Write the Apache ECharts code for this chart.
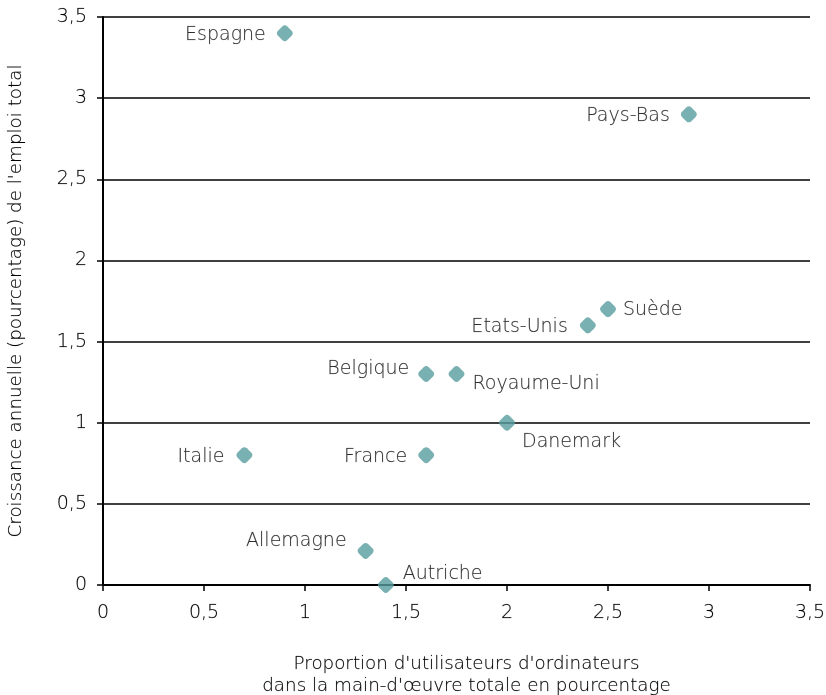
<!DOCTYPE html>
<html>
<head>
<meta charset="utf-8">
<script src="https://cdn.jsdelivr.net/npm/echarts@6/dist/echarts.min.js"></script>
<style>html,body{margin:0;padding:0;background:#fff}#c{width:826px;height:695px}</style>
</head>
<body>
<div id="c"></div>
<script>
const countries = ['Espagne','Pays-Bas','Suède','Etats-Unis','Belgique','Royaume-Uni','Danemark','Italie','France','Allemagne','Autriche'];
const computerShare = [0.9, 2.9, 2.5, 2.4, 1.6, 1.75, 2.0, 0.7, 1.6, 1.3, 1.4];
const employmentGrowth = [3.4, 2.9, 1.7, 1.6, 1.3, 1.3, 1.0, 0.8, 0.8, 0.21, 0.0];
const labelPlacement = {
  'Espagne': {position:'left', distance:11, offset:[0,2]},
  'Pays-Bas': {position:'left', distance:11, offset:[0,2]},
  'Suède': {position:'right', distance:7, offset:[0,1]},
  'Etats-Unis': {position:'left', distance:12, offset:[0,2]},
  'Belgique': {position:'left', distance:9, offset:[0,-5]},
  'Royaume-Uni': {position:'right', distance:8, offset:[0,10]},
  'Danemark': {position:'right', distance:7, offset:[0,19]},
  'Italie': {position:'left', distance:12, offset:[0,2]},
  'France': {position:'left', distance:11, offset:[0,2]},
  'Allemagne': {position:'left', distance:11, offset:[0,-10]},
  'Autriche': {position:'right', distance:9, offset:[0,-11]}
};
const fmt = v => String(v).replace('.', ',');

const data = countries.map((n,i)=>({
  name:n,
  value:[computerShare[i], employmentGrowth[i]],
  label:Object.assign({show:true, formatter:n}, labelPlacement[n])
}));

const chart = echarts.init(document.getElementById('c'), null, {renderer:'canvas'});
const font = 'DejaVu Sans, sans-serif';
const fw = 300;
const tc = '#000';
const fs = 19;
const fsTitle = 18.3;
const stroke = {textBorderColor:'rgba(0,0,0,0.35)', textBorderWidth:0.4};
chart.setOption({
  animation:false,
  textStyle:{fontFamily:font},
  grid:{left:103, right:16, top:17, bottom:110, containLabel:false, outerBoundsMode:'none'},
  xAxis:{
    type:'value', min:0, max:3.5, interval:0.5,
    axisLine:{show:true, onZero:false, lineStyle:{color:'#000', width:2}},
    axisTick:{show:true, inside:false, length:6, lineStyle:{color:'#000', width:1.5}},
    splitLine:{show:false},
    axisLabel:Object.assign({formatter:v=>fmt(v), color:tc, fontSize:fs, fontWeight:fw, margin:19, fontFamily:font}, stroke),
    name:"Proportion d'utilisateurs d'ordinateurs\ndans la main-d'œuvre totale en pourcentage",
    nameLocation:'middle', nameGap:68,
    nameTextStyle:Object.assign({color:tc, fontSize:fsTitle, fontWeight:fw, lineHeight:22, fontFamily:font, padding:[0,0,0,20]}, stroke)
  },
  yAxis:{
    type:'value', min:0, max:3.5, interval:0.5,
    axisLine:{show:true, lineStyle:{color:'#000', width:2}},
    axisTick:{show:true, inside:false, length:6, lineStyle:{color:'#000', width:1.5}},
    splitLine:{show:true, lineStyle:{color:'#000', width:1.5}},
    axisLabel:Object.assign({formatter:v=>fmt(v), color:tc, fontSize:fs, fontWeight:fw, margin:16, fontFamily:font}, stroke),
    name:"Croissance annuelle (pourcentage) de l'emploi total",
    nameLocation:'middle', nameGap:76, nameRotate:90,
    nameTextStyle:Object.assign({color:tc, fontSize:fsTitle, fontWeight:fw, lineHeight:22, fontFamily:font}, stroke)
  },
  series:[{
    type:'scatter',
    symbol:'path://M3.5,1 Q5,-0.4 6.5,1 L9,3.5 Q10.4,5 9,6.5 L6.5,9 Q5,10.4 3.5,9 L1,6.5 Q-0.4,5 1,3.5 Z',
    symbolSize:16,
    itemStyle:{color:'#589c9e'},
    label:Object.assign({color:tc, fontSize:fs, fontWeight:fw, fontFamily:font}, stroke),
    data:data,
    z:5
  }]
});
</script>
</body>
</html>
